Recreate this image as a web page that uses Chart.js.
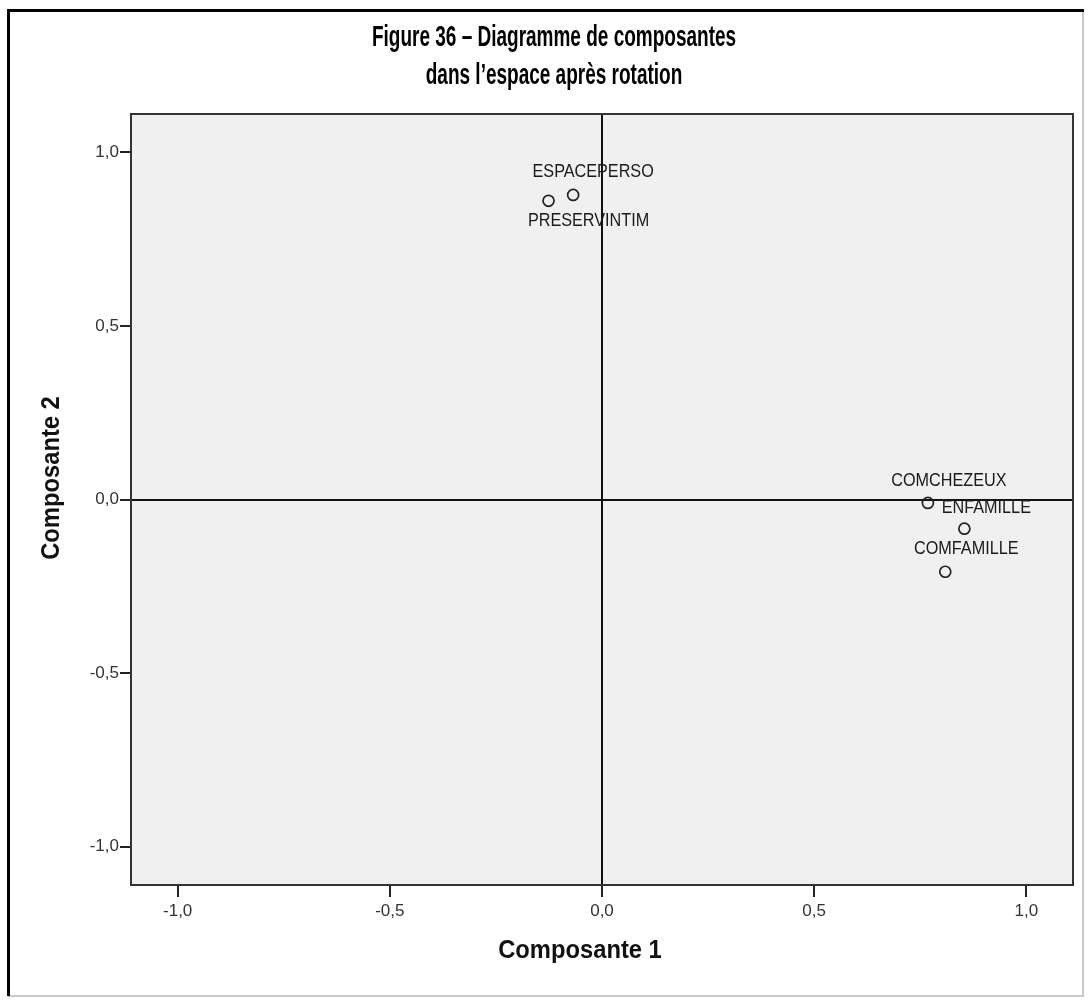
<!DOCTYPE html>
<html><head><meta charset="utf-8">
<script src="https://cdn.jsdelivr.net/npm/chart.js@4.4.1/dist/chart.umd.min.js"></script>
<style>html,body{margin:0;padding:0;background:#fff;} #wrap{width:1091px;height:1000px;}</style>
</head><body><div id="wrap"><canvas id="c" width="1091" height="1000"></canvas></div>
<script>
const variableNames = ['ESPACEPERSO', 'PRESERVINTIM', 'COMCHEZEUX', 'ENFAMILLE', 'COMFAMILLE'];
const composante1 = [-0.068, -0.126, 0.768, 0.854, 0.809];
const composante2 = [0.877, 0.860, -0.010, -0.084, -0.208];
const tickValues = [-1.0, -0.5, 0.0, 0.5, 1.0];
const titleLines = ['Figure 36 – Diagramme de composantes', 'dans l’espace après rotation'];
const xAxisTitle = 'Composante 1';
const yAxisTitle = 'Composante 2';

// label placement (pixel offsets from each point), styling only
const labelOffsets = [[20, -23], [40, 20], [21, -22], [22, -21], [21, -23]];

function condText(ctx, text, x, y, sx, rot) {
  ctx.save();
  ctx.translate(x, y);
  if (rot) ctx.rotate(rot);
  ctx.scale(sx, 1);
  ctx.fillText(text, 0, 0);
  ctx.restore();
}

const decor = {
  id: 'decor',
  beforeDraw(chart) {
    const ctx = chart.ctx, a = chart.chartArea;
    ctx.save();
    ctx.fillStyle = '#fff';
    ctx.fillRect(0, 0, chart.width, chart.height);
    ctx.strokeStyle = '#c8c8c8';
    ctx.lineWidth = 2;
    ctx.beginPath();
    ctx.moveTo(1083, 10); ctx.lineTo(1083, 996); ctx.lineTo(8, 996);
    ctx.stroke();
    ctx.strokeStyle = '#000';
    ctx.lineWidth = 3;
    ctx.beginPath();
    ctx.moveTo(8.5, 996); ctx.lineTo(8.5, 10.5); ctx.lineTo(1084, 10.5);
    ctx.stroke();
    ctx.fillStyle = '#f0f0f0';
    ctx.fillRect(a.left, a.top, a.right - a.left, a.bottom - a.top);
    ctx.restore();
  },
  beforeDatasetsDraw(chart) {
    const ctx = chart.ctx, a = chart.chartArea;
    ctx.save();
    ctx.strokeStyle = '#333';
    ctx.lineWidth = 2;
    ctx.strokeRect(a.left, a.top, a.right - a.left, a.bottom - a.top);
    ctx.restore();
  },
  afterDatasetsDraw(chart) {
    const ctx = chart.ctx;
    const meta = chart.getDatasetMeta(0);
    ctx.save();
    ctx.fillStyle = '#1a1a1a';
    ctx.font = '18px "Liberation Sans", Arial, sans-serif';
    ctx.textAlign = 'center';
    ctx.textBaseline = 'middle';
    meta.data.forEach((pt, i) => {
      const off = labelOffsets[i];
      condText(ctx, variableNames[i], pt.x + off[0], pt.y + off[1], 0.9);
    });
    ctx.restore();
  },
  afterDraw(chart) {
    const ctx = chart.ctx;
    ctx.save();
    ctx.fillStyle = '#000';
    ctx.textAlign = 'center';
    ctx.textBaseline = 'middle';
    ctx.font = 'bold 29px "Liberation Sans", Arial, sans-serif';
    condText(ctx, titleLines[0], 554, 38, 0.655);
    condText(ctx, titleLines[1], 554, 76, 0.655);
    ctx.fillStyle = '#111';
    ctx.font = 'bold 25px "Liberation Sans", Arial, sans-serif';
    condText(ctx, xAxisTitle, 580, 951, 0.95);
    condText(ctx, yAxisTitle, 52, 478, 0.95, -Math.PI / 2);
    ctx.restore();
  }
};

const fmt = v => (Math.round(v * 10) / 10).toFixed(1).replace('.', ',');
const gridCfg = {
  drawOnChartArea: true,
  color: c => (c.tick && Math.abs(c.tick.value) < 1e-9) ? '#111' : 'rgba(0,0,0,0)',
  lineWidth: 2,
  tickColor: '#222',
  tickWidth: 2,
  tickLength: 12
};

new Chart(document.getElementById('c'), {
  type: 'scatter',
  data: {
    datasets: [{
      data: composante1.map((x, i) => ({ x: x, y: composante2[i] })),
      pointStyle: 'circle',
      pointRadius: 5.5,
      pointBorderWidth: 1.7,
      borderColor: '#222',
      backgroundColor: 'rgba(0,0,0,0)',
      showLine: false
    }]
  },
  plugins: [decor],
  options: {
    responsive: false,
    animation: false,
    devicePixelRatio: 1,
    layout: { padding: { left: 0, right: 18, top: 114, bottom: 0 } },
    plugins: { legend: { display: false }, title: { display: false }, tooltip: { enabled: false } },
    scales: {
      x: {
        type: 'linear', min: -1.11, max: 1.11,
        afterBuildTicks: s => { s.ticks = tickValues.map(v => ({ value: v })); },
        afterFit: s => { s.height = 115; },
        ticks: { callback: fmt, color: '#333', font: { size: 17, family: '"Liberation Sans", Arial, sans-serif' }, padding: 4, maxRotation: 0, autoSkip: false },
        grid: gridCfg,
        border: { display: false }
      },
      y: {
        type: 'linear', min: -1.11, max: 1.11,
        afterBuildTicks: s => { s.ticks = tickValues.map(v => ({ value: v })); },
        afterFit: s => { s.width = 131; },
        ticks: { callback: fmt, color: '#333', font: { size: 17, family: '"Liberation Sans", Arial, sans-serif' }, padding: 1, autoSkip: false },
        grid: Object.assign({}, gridCfg, { tickLength: 11 }),
        border: { display: false }
      }
    }
  }
});
</script>
</body></html>
